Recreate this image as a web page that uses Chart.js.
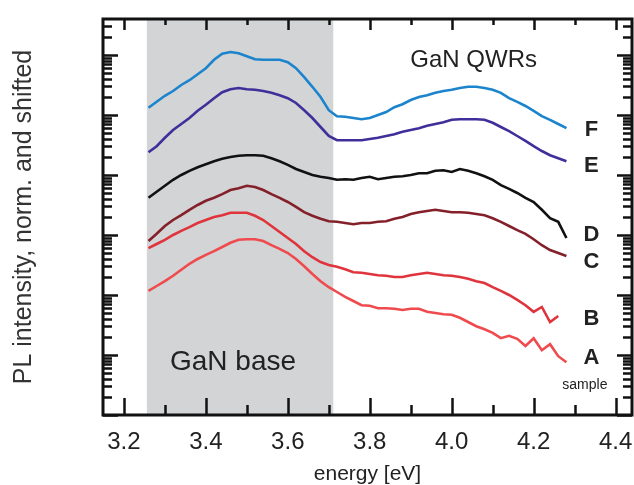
<!DOCTYPE html>
<html>
<head>
<meta charset="utf-8">
<script src="https://cdn.jsdelivr.net/npm/chart.js@4.4.1/dist/chart.umd.min.js"></script>
<style>
  html, body { margin: 0; padding: 0; background: #fff; }
</style>
</head>
<body>
<canvas id="plChart" width="634" height="485"></canvas>
<script>
// photon energy [eV], common grid of all spectra
let energy = [3.26, 3.28, 3.30, 3.32, 3.34, 3.36, 3.38, 3.40, 3.42, 3.44,
  3.46, 3.48, 3.50, 3.52, 3.54, 3.56, 3.58, 3.60, 3.62, 3.64,
  3.66, 3.68, 3.70, 3.72, 3.74, 3.76, 3.78, 3.80, 3.82, 3.84,
  3.86, 3.88, 3.90, 3.92, 3.94, 3.96, 3.98, 4.00, 4.02, 4.04,
  4.06, 4.08, 4.10, 4.12, 4.14, 4.16, 4.18, 4.20, 4.22, 4.24,
  4.26, 4.28];

// log10 of PL intensity (normalised and shifted), one array per sample
let logF = [5.12, 5.22, 5.32, 5.40, 5.50, 5.58, 5.68, 5.78, 5.92, 6.02,
  6.05, 6.03, 5.98, 5.93, 5.92, 5.92, 5.92, 5.88, 5.78, 5.63,
  5.47, 5.30, 5.08, 4.98, 4.97, 4.95, 4.93, 4.95, 5.00, 5.05,
  5.13, 5.18, 5.25, 5.30, 5.33, 5.37, 5.40, 5.42, 5.45, 5.47,
  5.47, 5.45, 5.42, 5.37, 5.28, 5.22, 5.15, 5.07, 4.98, 4.92,
  4.85, 4.78];
let logE = [4.38, 4.48, 4.62, 4.75, 4.85, 4.95, 5.07, 5.17, 5.28, 5.38,
  5.43, 5.45, 5.43, 5.42, 5.40, 5.37, 5.33, 5.28, 5.20, 5.08,
  4.95, 4.80, 4.65, 4.58, 4.58, 4.58, 4.58, 4.60, 4.62, 4.65,
  4.68, 4.72, 4.75, 4.78, 4.82, 4.85, 4.88, 4.92, 4.93, 4.93,
  4.93, 4.92, 4.87, 4.80, 4.73, 4.65, 4.57, 4.48, 4.40, 4.33,
  4.28, 4.23];
let logD = [3.62, 3.72, 3.82, 3.92, 4.00, 4.07, 4.13, 4.18, 4.23, 4.27,
  4.30, 4.32, 4.33, 4.33, 4.32, 4.28, 4.23, 4.17, 4.10, 4.05,
  4.00, 3.97, 3.95, 3.92, 3.93, 3.92, 3.95, 3.97, 3.93, 3.95,
  3.97, 3.98, 4.00, 4.03, 4.03, 4.07, 4.08, 4.05, 4.10, 4.07,
  4.03, 3.98, 3.92, 3.83, 3.77, 3.70, 3.62, 3.55, 3.42, 3.28,
  3.22, 2.95];
let logC = [2.90, 3.02, 3.15, 3.25, 3.33, 3.42, 3.50, 3.57, 3.62, 3.68,
  3.75, 3.78, 3.82, 3.80, 3.75, 3.68, 3.62, 3.55, 3.47, 3.38,
  3.32, 3.27, 3.23, 3.22, 3.20, 3.18, 3.20, 3.20, 3.22, 3.23,
  3.27, 3.30, 3.35, 3.38, 3.40, 3.42, 3.40, 3.38, 3.38, 3.37,
  3.35, 3.33, 3.28, 3.22, 3.15, 3.08, 3.02, 2.93, 2.83, 2.75,
  2.70, 2.65];
let logB = [2.78, 2.85, 2.92, 3.00, 3.07, 3.13, 3.20, 3.25, 3.30, 3.33,
  3.37, 3.37, 3.37, 3.32, 3.25, 3.15, 3.05, 2.95, 2.85, 2.73,
  2.63, 2.55, 2.50, 2.47, 2.43, 2.38, 2.37, 2.35, 2.33, 2.32,
  2.30, 2.30, 2.33, 2.35, 2.37, 2.35, 2.33, 2.32, 2.30, 2.27,
  2.23, 2.20, 2.13, 2.07, 2.00, 1.92, 1.83, 1.72, 1.80, 1.55,
  1.65, null];
let logA = [2.07, 2.15, 2.23, 2.32, 2.42, 2.52, 2.60, 2.67, 2.73, 2.80,
  2.87, 2.92, 2.93, 2.93, 2.90, 2.83, 2.77, 2.70, 2.60, 2.48,
  2.35, 2.23, 2.13, 2.05, 1.97, 1.90, 1.83, 1.82, 1.78, 1.78,
  1.77, 1.75, 1.77, 1.77, 1.72, 1.70, 1.68, 1.67, 1.62, 1.55,
  1.48, 1.43, 1.37, 1.28, 1.32, 1.27, 1.15, 1.28, 1.08, 1.18,
  0.98, 0.88];

let xTicks = [3.2, 3.4, 3.6, 3.8, 4.0, 4.2, 4.4];
let xMinorTicks = [3.3, 3.5, 3.7, 3.9, 4.1, 4.3];
let baseBand = [3.256, 3.711]; // shaded "GaN base" energy range

let sampleNames = ['A', 'B', 'C', 'D', 'E', 'F'];
let sampleColors = ['#ef4a4e', '#e0343c', '#84202a', '#111111', '#3f2f9a', '#1c84cc'];
let sampleLogs = [logA, logB, logC, logD, logE, logF];

const font = "'Liberation Sans', Arial, sans-serif";

function toPoints(logs) {
  return energy.map((e, i) => ({ x: e, y: logs[i] === null ? null : Math.pow(10, logs[i]) }));
}

// frame, inward tick marks, shaded band and text labels
const decorations = {
  id: 'decorations',
  beforeDatasetsDraw(chart) {
    const { ctx, chartArea: a, scales: { x } } = chart;
    const x0 = x.getPixelForValue(baseBand[0]);
    const x1 = x.getPixelForValue(baseBand[1]);
    ctx.save();
    ctx.fillStyle = '#d3d4d6';
    ctx.fillRect(x0, a.top, x1 - x0, a.bottom - a.top);
    ctx.restore();
  },
  afterDatasetsDraw(chart) {
    const { ctx, chartArea: a, scales: { x, y } } = chart;
    ctx.save();
    ctx.strokeStyle = '#111';
    ctx.lineCap = 'butt';

    // y ticks: every k * 10^n, long at the decades
    ctx.lineWidth = 2.5;
    for (let n = 0; n <= 6; n++) {
      for (let k = 1; k <= 9; k++) {
        const v = k * Math.pow(10, n);
        if (v > y.max) break;
        const py = Math.round(y.getPixelForValue(v)) + 0.5;
        const len = k === 1 ? 15 : 9;
        ctx.beginPath();
        ctx.moveTo(a.left, py); ctx.lineTo(a.left + len, py);
        ctx.moveTo(a.right, py); ctx.lineTo(a.right - len, py);
        ctx.stroke();
      }
    }
    // x ticks
    xTicks.concat(xMinorTicks).forEach(v => {
      const px = Math.round(x.getPixelForValue(v)) + 0.5;
      const major = xTicks.includes(v);
      ctx.beginPath();
      ctx.moveTo(px, a.bottom); ctx.lineTo(px, a.bottom - (major ? 17 : 10));
      ctx.moveTo(px, a.top); ctx.lineTo(px, a.top + (major ? 11 : 6));
      ctx.stroke();
    });

    // frame
    ctx.lineWidth = 3;
    ctx.strokeRect(a.left, a.top, a.right - a.left, a.bottom - a.top);

    // text
    ctx.fillStyle = '#222';
    ctx.textBaseline = 'middle';
    ctx.textAlign = 'left';
    ctx.font = '24px ' + font;
    ctx.fillText('GaN QWRs', x.getPixelForValue(3.899), y.getPixelForValue(Math.pow(10, 5.917)));
    ctx.font = '28px ' + font;
    ctx.fillText('GaN base', x.getPixelForValue(3.3125), y.getPixelForValue(Math.pow(10, 0.883)));

    const labelLog = [0.95, 1.6, 2.55, 3.0, 4.15, 4.75];
    ctx.textAlign = 'center';
    ctx.font = 'bold 22px ' + font;
    sampleNames.forEach((s, i) => {
      ctx.fillText(s, x.getPixelForValue(4.341), y.getPixelForValue(Math.pow(10, labelLog[i])));
    });
    ctx.font = '14px ' + font;
    ctx.fillText('sample', x.getPixelForValue(4.325), y.getPixelForValue(Math.pow(10, 0.5)));
    ctx.restore();
  }
};

let plChart = new Chart(document.getElementById('plChart').getContext('2d'), {
  type: 'line',
  data: {
    datasets: sampleNames.map((s, i) => ({
      label: s,
      data: toPoints(sampleLogs[i]),
      borderColor: sampleColors[i],
      borderWidth: 2.6,
      pointRadius: 0,
      tension: 0,
      fill: false
    }))
  },
  options: {
    responsive: false,
    animation: false,
    layout: { padding: { top: 19, right: 2, left: 0, bottom: 0 } },
    plugins: {
      legend: { display: false },
      tooltip: { enabled: false }
    },
    scales: {
      x: {
        type: 'linear',
        min: 3.149,
        max: 4.44,
        grid: { display: false, drawTicks: false },
        border: { display: false },
        afterBuildTicks: s => { s.ticks = xTicks.map(v => ({ value: v })); },
        afterFit: s => { s.height = 70; s.paddingLeft = 0; s.paddingRight = 0; },
        ticks: {
          callback: v => v.toFixed(1),
          font: { family: font, size: 24 },
          color: '#222',
          padding: 13,
          maxRotation: 0
        },
        title: {
          display: true,
          text: 'energy [eV]',
          font: { family: font, size: 21, lineHeight: 1.0 },
          color: '#222',
          padding: { top: 0, bottom: 0 }
        }
      },
      y: {
        type: 'logarithmic',
        min: 1,
        max: Math.pow(10, 6.6),
        grid: { display: false, drawTicks: false },
        border: { display: false },
        ticks: { display: false },
        afterFit: s => { s.width = 103; },
        title: {
          display: true,
          text: 'PL intensity, norm. and shifted',
          font: { family: font, size: 25 },
          color: '#333',
          padding: { top: 9, bottom: 0 }
        }
      }
    }
  },
  plugins: [decorations]
});
</script>
</body>
</html>
